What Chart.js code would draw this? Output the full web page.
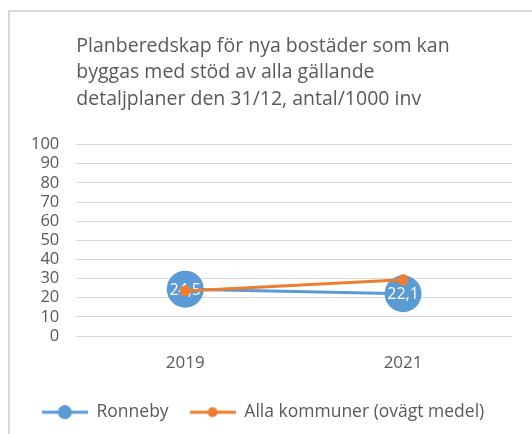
<!DOCTYPE html>
<html>
<head>
<meta charset="utf-8">
<script src="https://cdn.jsdelivr.net/npm/chart.js@4"></script>
<style>
html,body{margin:0;padding:0;background:#fff;}
#frame{position:absolute;left:8px;top:10px;width:600px;height:500px;border-left:2px solid #d9d9d9;border-top:2px solid #d9d9d9;}
#wrap{position:absolute;left:0;top:0;width:532px;height:434px;}
</style>
</head>
<body>
<div id="frame"></div>
<div id="wrap"><canvas id="c"></canvas></div>
<script>
// data
const years=["2019","2021"];
const ronneby=[24.5,22.1];
const allaKommuner=[23.6,29.4];
const yTicks=[0,10,20,30,40,50,60,70,80,90,100];

const titleLines=["Planberedskap för nya bostäder som kan","byggas med stöd av alla gällande","detaljplaner den 31/12, antal/1000 inv"];
const blue="#5B9BD5", orange="#ED7D31", grey="#595959";
const font="'Open Sans', Lato, sans-serif";

function legendIcon(color,r){
let cv=document.createElement("canvas");
cv.width=46;cv.height=14;
let g=cv.getContext("2d");
g.strokeStyle=color;g.lineWidth=3;
g.beginPath();g.moveTo(0,7);g.lineTo(46,7);g.stroke();
g.fillStyle=color;
g.beginPath();g.arc(23,7,r,0,Math.PI*2);g.fill();
return cv;
}

// white value labels on top of the Ronneby markers
const valueLabels={
id:"valueLabels",
afterDatasetDraw(chart,args){
if(args.index!==0) return;
const ctx=chart.ctx;
ctx.save();
ctx.font="16px "+font;
ctx.fillStyle="#fff";
ctx.textAlign="center";
ctx.textBaseline="middle";
args.meta.data.forEach((pt,i)=>{
ctx.fillText(String(ronneby[i]).replace(".",","),pt.x,pt.y+1);
});
ctx.restore();
}
};

new Chart(document.getElementById("c"),{
type:"line",
data:{
labels:years,
datasets:[
{label:"Ronneby",data:ronneby,borderColor:blue,backgroundColor:blue,borderWidth:3,
pointRadius:18.5,pointHoverRadius:18.5,pointBorderWidth:0,order:1,
legendIcon:legendIcon(blue,7)},
{label:"Alla kommuner (ovägt medel)",data:allaKommuner,borderColor:orange,backgroundColor:orange,borderWidth:3,
pointRadius:5.5,pointHoverRadius:5.5,pointBorderWidth:0,order:0,
legendIcon:legendIcon(orange,5)}
]
},
options:{
responsive:true,
maintainAspectRatio:false,
animation:false,
layout:{padding:{left:14,right:20,top:0,bottom:3}},
plugins:{
title:{display:true,text:titleLines,align:"start",fullSize:false,
color:grey,font:{family:font,size:19.5,weight:"normal",lineHeight:1.36},
padding:{top:33,bottom:32}},
legend:{position:"bottom",
labels:{usePointStyle:true,pointStyleWidth:46,color:grey,font:{family:font,size:17.5},padding:21,
generateLabels(chart){
return chart.data.datasets.map((d,i)=>({
text:d.label,pointStyle:d.legendIcon,fontColor:grey,datasetIndex:i,
strokeStyle:d.borderColor,fillStyle:d.backgroundColor,lineWidth:0
}));
}}},
tooltip:{enabled:false}
},
scales:{
x:{offset:true,grid:{display:false},border:{display:false},
ticks:{color:grey,font:{family:font,size:17},padding:9}},
y:{min:0,max:100,
afterBuildTicks(axis){axis.ticks=yTicks.map(v=>({value:v}));},
grid:{color:"#d9d9d9",drawTicks:false},border:{display:false},
ticks:{color:grey,font:{family:font,size:16.5},padding:17,autoSkip:false}}
}
},
plugins:[valueLabels]
});
</script>
</body>
</html>
